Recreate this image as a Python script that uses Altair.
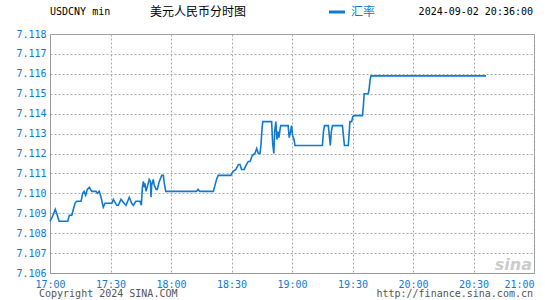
import altair as alt
import pandas as pd

# minutes after 17:00
minutes = [
    0.0, 1.1, 2.6, 3.6, 4.5, 8.8, 9.6, 10.8, 11.6, 12.4,
    13.2, 15.4, 16.2, 16.9, 17.7, 18.5, 19.5, 20.7, 22.8, 23.5,
    24.4, 25.3, 26.4, 27.3, 30.7, 31.4, 33.1, 33.9, 35.2, 36.7,
    37.7, 39.3, 40.5, 41.3, 42.6, 43.8, 44.6, 45.3, 45.8, 46.3,
    46.8, 47.1, 47.6, 48.2, 48.7, 49.2, 49.8, 50.1, 50.4, 51.2,
    51.7, 52.6, 53.2, 54.2, 55.4, 56.2, 56.7, 57.4, 72.7, 73.4,
    74.2, 81.0, 81.8, 82.6, 83.4, 89.7, 90.1, 90.9, 92.2, 93.4,
    94.2, 95.0, 96.3, 97.2, 98.3, 99.2, 100.3, 101.6, 102.5, 103.3,
    104.1, 104.6, 105.1, 105.5, 109.9, 110.4, 111.0, 111.4, 112.0, 112.5,
    113.0, 113.5, 114.2, 114.5, 118.1, 118.6, 119.3, 119.8, 120.3, 121.0,
    121.5, 135.1, 135.6, 136.1, 138.0, 138.5, 139.0, 139.5, 140.1, 145.0,
    145.5, 146.0, 147.9, 148.4, 148.7, 149.6, 150.1, 150.7, 154.9, 155.3,
    155.8, 157.8, 158.2, 158.7, 159.2, 216.2,
]
rates = [
    7.1086, 7.1088, 7.1092, 7.1089, 7.1086, 7.1086, 7.1089, 7.1089, 7.1092, 7.1095,
    7.1096, 7.1096, 7.1100, 7.1101, 7.1099, 7.1102, 7.1103, 7.1101, 7.1101, 7.1100,
    7.1101, 7.1098, 7.1093, 7.1095, 7.1095, 7.1097, 7.1094, 7.1094, 7.1097, 7.1095,
    7.1094, 7.1098, 7.1095, 7.1094, 7.1096, 7.1096, 7.1096, 7.1094, 7.1103, 7.1106,
    7.1103, 7.1105, 7.1101, 7.1103, 7.1105, 7.1107, 7.1106, 7.1098, 7.1104, 7.1107,
    7.1104, 7.1102, 7.1102, 7.1106, 7.1109, 7.1109, 7.1105, 7.1101, 7.1101, 7.1102,
    7.1101, 7.1101, 7.1104, 7.1107, 7.1109, 7.1109, 7.1110, 7.1111, 7.1112, 7.11145,
    7.11145, 7.1112, 7.1112, 7.1114, 7.1116, 7.1116, 7.1119, 7.1120, 7.11225, 7.1120,
    7.1120, 7.1124, 7.1132, 7.1136, 7.1136, 7.1125, 7.1120, 7.1131, 7.1136, 7.1127,
    7.1131, 7.1128, 7.1133, 7.1134, 7.1134, 7.1128, 7.1131, 7.1134, 7.1129, 7.1127,
    7.1124, 7.1124, 7.1131, 7.1134, 7.1134, 7.1129, 7.1124, 7.1131, 7.1134, 7.1134,
    7.1129, 7.1124, 7.1124, 7.1131, 7.1136, 7.1136, 7.11385, 7.1139, 7.1139, 7.11427,
    7.1150, 7.1150, 7.1152, 7.1157, 7.1159, 7.1159,
]
x_ticks = [0, 30, 60, 90, 120, 150, 180, 210, 240]
y_ticks = [7.106, 7.107, 7.108, 7.109, 7.110, 7.111, 7.112,
           7.113, 7.114, 7.115, 7.116, 7.117, 7.118]

BLUE = "#1279cf"
MONO = "DejaVu Sans Mono"
CJK = "Noto Sans CJK SC"

df = pd.DataFrame({"t": minutes, "rate": rates})

line = alt.Chart(df).mark_line(color=BLUE, strokeWidth=1.6).encode(
    x=alt.X(
        "t:Q",
        scale=alt.Scale(domain=[0, 240], nice=False, zero=False),
        axis=alt.Axis(
            values=x_ticks, title=None, ticks=False,
            labelExpr="floor(17 + datum.value / 60) + ':' + (datum.value % 60 == 0 ? '00' : '30')",
            labelAlign={"expr": "datum.value >= 240 ? 'right' : 'center'"},
            labelColor=BLUE, labelFont=MONO, labelFontSize=10, labelPadding=6,
            labelBaseline="top", labelFlush=False, labelOverlap=False,
            grid=True, gridColor="#aaaaaa", gridDash=[2, 2], gridWidth=1,
            domainColor="#999999",
        ),
    ),
    y=alt.Y(
        "rate:Q",
        scale=alt.Scale(domain=[7.106, 7.118], nice=False, zero=False),
        axis=alt.Axis(
            values=y_ticks, title=None, ticks=False, format=".3f",
            labelColor=BLUE, labelFont=MONO, labelFontSize=10, labelPadding=4,
            labelOverlap=False, labelFlush=False,
            grid=True, gridColor="#aaaaaa", gridDash=[2, 2], gridWidth=1,
            domainColor="#999999",
        ),
    ),
)

one = pd.DataFrame({"a": [0]})


def txt(text, x, y, color="#000000", font=MONO, size=10, align="left", **kw):
    return alt.Chart(one).mark_text(
        text=text, align=align, baseline="middle", color=color,
        font=font, fontSize=size, **kw
    ).encode(x=alt.value(x), y=alt.value(y))


title1 = txt("USDCNY min", 0, -22)
title2 = txt("美元人民币分时图", 100, -22, font=CJK, size=12)
legend_line = alt.Chart(one).mark_rule(color=BLUE, strokeWidth=3).encode(
    x=alt.value(279), x2=alt.value(295), y=alt.value(-22)
)
legend_text = txt("汇率", 301, -22, color=BLUE, font=CJK, size=12)
stamp = txt("2024-09-02 20:36:00", 483, -22, align="right")
copyright_ = txt("Copyright 2024 SINA.COM", -11, 260, color="#555555")
url = txt("http://finance.sina.com.cn", 483, 260, color="#555555", align="right")
logo = txt("sina", 482, 231, color="#cccccc", font="DejaVu Sans", size=16,
           align="right", fontStyle="italic", fontWeight="bold")

chart = alt.layer(
    line, title1, title2, legend_line, legend_text, stamp, copyright_, url, logo
).properties(
    width=484, height=239,
    padding={"left": 50, "top": 34, "right": 11, "bottom": 27},
    autosize="none", background="white",
).configure_view(stroke="#999999", strokeWidth=1)

chart.save("out.html", embed_options={"renderer": "svg", "actions": False})
